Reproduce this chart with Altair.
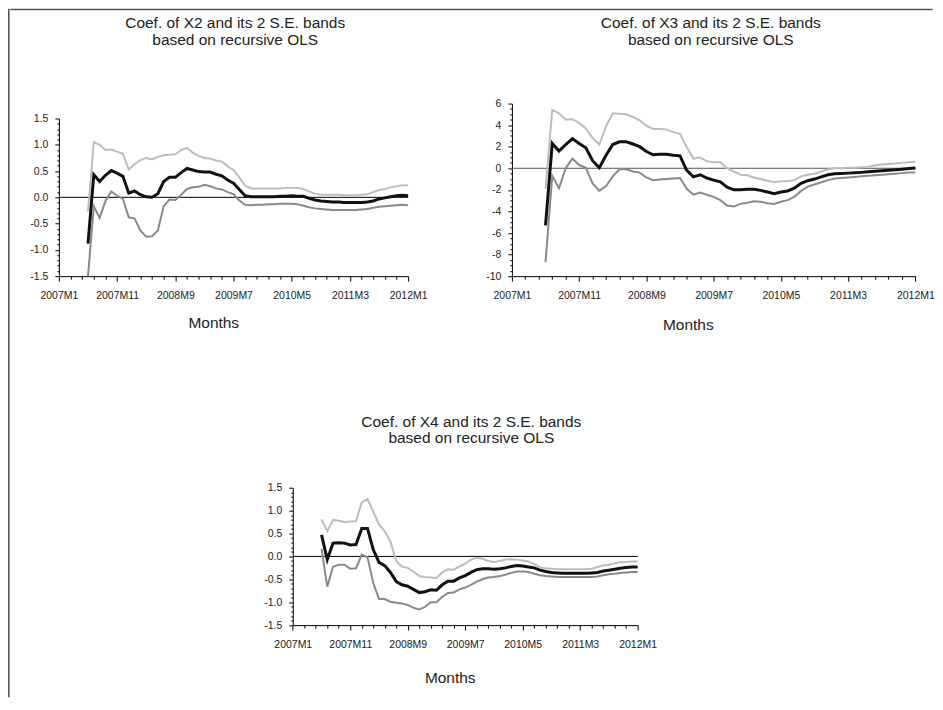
import altair as alt
import pandas as pd

# ---------------- data (months indexed from 2007M1 = 0; estimates start 2007M6) ----------------
MONTH_INDEX = list(range(5, 61))

X2_COEF = [-0.88, 0.43, 0.30, 0.42, 0.51, 0.46, 0.40, 0.08, 0.12, 0.05,
           0.01, 0.00, 0.07, 0.30, 0.38, 0.38, 0.47, 0.55, 0.52, 0.49,
           0.48, 0.48, 0.44, 0.41, 0.33, 0.27, 0.15, 0.03, 0.01, 0.01,
           0.01, 0.01, 0.01, 0.02, 0.02, 0.03, 0.02, 0.02, -0.02, -0.05,
           -0.07, -0.08, -0.09, -0.09, -0.10, -0.10, -0.10, -0.10, -0.09, -0.07,
           -0.03, -0.01, 0.01, 0.03, 0.04, 0.03]
X2_UPPER = [-0.27, 1.05, 1.00, 0.90, 0.91, 0.87, 0.83, 0.53, 0.63, 0.71,
            0.75, 0.72, 0.77, 0.80, 0.81, 0.82, 0.90, 0.94, 0.85, 0.79,
            0.75, 0.74, 0.70, 0.68, 0.59, 0.52, 0.38, 0.22, 0.17, 0.17,
            0.17, 0.17, 0.17, 0.17, 0.18, 0.18, 0.18, 0.16, 0.11, 0.07,
            0.05, 0.05, 0.05, 0.05, 0.04, 0.04, 0.04, 0.05, 0.06, 0.10,
            0.14, 0.16, 0.19, 0.21, 0.23, 0.23]
X2_LOWER = [-1.50, -0.17, -0.39, -0.07, 0.11, 0.03, -0.03, -0.38, -0.40, -0.63,
            -0.75, -0.74, -0.63, -0.17, -0.04, -0.05, 0.05, 0.16, 0.19, 0.20,
            0.24, 0.21, 0.17, 0.15, 0.10, 0.06, -0.06, -0.14, -0.15, -0.14,
            -0.14, -0.13, -0.13, -0.12, -0.12, -0.12, -0.13, -0.16, -0.19, -0.21,
            -0.22, -0.23, -0.24, -0.24, -0.24, -0.24, -0.24, -0.23, -0.22, -0.20,
            -0.18, -0.17, -0.16, -0.15, -0.14, -0.15]

X3_COEF = [-5.3, 2.3, 1.6, 2.2, 2.75, 2.3, 1.9, 0.7, 0.05, 1.2,
           2.2, 2.45, 2.45, 2.25, 2.0, 1.55, 1.25, 1.3, 1.3, 1.2,
           1.15, -0.2, -0.8, -0.6, -0.9, -1.1, -1.25, -1.75, -2.0, -2.0,
           -1.95, -1.95, -2.05, -2.2, -2.35, -2.2, -2.1, -1.85, -1.4, -1.15,
           -1.0, -0.8, -0.6, -0.5, -0.48, -0.45, -0.42, -0.38, -0.33, -0.28,
           -0.23, -0.18, -0.13, -0.08, -0.03, 0.03]
X3_UPPER = [-1.9, 5.4, 5.1, 4.5, 4.55, 4.2, 3.7, 2.8, 2.2, 3.9,
            5.1, 5.05, 5.0, 4.75, 4.45, 3.95, 3.65, 3.65, 3.6, 3.35,
            3.2, 1.95, 0.9, 1.0, 0.65, 0.55, 0.55, 0.0, -0.3, -0.6,
            -0.65, -0.85, -1.0, -1.15, -1.3, -1.2, -1.2, -1.1, -0.75, -0.6,
            -0.5, -0.3, -0.1, 0.0, 0.0, 0.05, 0.05, 0.1, 0.15, 0.25,
            0.35, 0.4, 0.45, 0.5, 0.55, 0.6]
X3_LOWER = [-8.7, -0.7, -1.85, 0.0, 0.9, 0.3, 0.05, -1.4, -2.1, -1.65,
            -0.75, -0.1, -0.1, -0.3, -0.4, -0.85, -1.1, -1.05, -1.0, -0.95,
            -0.9, -1.9, -2.45, -2.25, -2.45, -2.65, -2.95, -3.45, -3.55, -3.3,
            -3.2, -3.05, -3.1, -3.25, -3.3, -3.1, -2.95, -2.65, -2.1, -1.7,
            -1.5, -1.3, -1.1, -0.95, -0.9, -0.85, -0.8, -0.75, -0.7, -0.65,
            -0.6, -0.55, -0.5, -0.45, -0.4, -0.4]

X4_COEF = [0.47, -0.07, 0.29, 0.30, 0.29, 0.25, 0.26, 0.61, 0.61, 0.15,
           -0.13, -0.20, -0.35, -0.55, -0.62, -0.65, -0.72, -0.79, -0.77, -0.73,
           -0.74, -0.62, -0.54, -0.54, -0.47, -0.42, -0.35, -0.29, -0.27, -0.27,
           -0.28, -0.27, -0.25, -0.22, -0.20, -0.21, -0.23, -0.25, -0.30, -0.33,
           -0.35, -0.36, -0.37, -0.37, -0.37, -0.37, -0.37, -0.36, -0.35, -0.32,
           -0.30, -0.28, -0.26, -0.24, -0.23, -0.23]
X4_UPPER = [0.81, 0.55, 0.80, 0.78, 0.75, 0.76, 0.77, 1.18, 1.25, 0.98,
            0.70, 0.55, 0.32, -0.10, -0.22, -0.25, -0.33, -0.43, -0.45, -0.46,
            -0.47, -0.35, -0.28, -0.29, -0.22, -0.16, -0.07, -0.03, -0.05, -0.10,
            -0.12, -0.10, -0.07, -0.06, -0.07, -0.09, -0.11, -0.17, -0.24, -0.26,
            -0.27, -0.28, -0.28, -0.28, -0.28, -0.28, -0.28, -0.27, -0.23, -0.20,
            -0.18, -0.15, -0.13, -0.12, -0.11, -0.11]
X4_LOWER = [0.17, -0.66, -0.23, -0.18, -0.18, -0.27, -0.26, 0.04, -0.02, -0.58,
            -0.93, -0.93, -0.99, -1.01, -1.03, -1.06, -1.12, -1.16, -1.10, -1.00,
            -1.00, -0.88, -0.80, -0.79, -0.72, -0.68, -0.62, -0.55, -0.50, -0.46,
            -0.45, -0.43, -0.40, -0.36, -0.33, -0.33, -0.34, -0.38, -0.41, -0.43,
            -0.44, -0.45, -0.45, -0.45, -0.45, -0.45, -0.45, -0.45, -0.44, -0.41,
            -0.39, -0.38, -0.36, -0.35, -0.34, -0.34]

TITLE_X2 = ["Coef. of X2 and its 2 S.E. bands", "based on recursive OLS"]
TITLE_X3 = ["Coef. of X3 and its 2 S.E. bands", "based on recursive OLS"]
TITLE_X4 = ["Coef. of X4 and its 2 S.E. bands", "based on recursive OLS"]
X_TITLE = "Months"
X_TICKS = list(range(0, 61, 2))
Y_TICKS_SMALL = [round(-1.5 + 0.1 * i, 1) for i in range(31)]
Y_TICKS_BIG = [round(-10 + 0.5 * i, 1) for i in range(33)]

# ---------------- style / layout ----------------
FONT = "Liberation Sans, Arial, sans-serif"
TITLE_SIZE = 15.5
LABEL_SIZE = 10.5
TEXT_C = "#222222"
UPPER_C = "#bdbdbd"
LOWER_C = "#8a8a8a"
COEF_C = "#111111"
FRAME_C = "#555555"
FW = 1.6

EDGE = 8.0              # page position where the frame starts (left / top)
SPLIT_X = 460.0         # layout boundary between the two upper panels
SPLIT_Y = 380.0         # layout boundary between the rows
RIGHT_END = 934.0
BOTTOM = 698.0

X_LABEL = ("datum.value % 10 === 0 ? (2007 + floor(datum.value / 12)) + 'M' + "
           "(datum.value % 12 + 1) : ''")
Y_TEST_SMALL = "abs(datum.value * 2 - round(datum.value * 2)) < 0.001"
Y_LABEL_SMALL = (Y_TEST_SMALL + " ? (datum.value < 0 ? '-' : '') + "
                 "format(abs(datum.value), '.1f') : ''")
Y_TEST_BIG = "datum.value % 2 === 0"
Y_LABEL_BIG = (Y_TEST_BIG + " ? (datum.value < 0 ? '-' : '') + "
               "format(abs(datum.value), 'd') : ''")

ONE = pd.DataFrame({"zero": [0.0], "x0": [0], "x1": [60]})

# plot origins (page px)
O1 = (58.3, 104.0)
O2 = (511.7, 104.0)
O3 = (58.3, 488.3)


def box(origin, x1, x2, y1, y2, opacity=1.0):
    """A filled strip given in page pixels (frame line or invisible layout guide)."""
    ox, oy = origin
    return alt.Chart(ONE).mark_rect(color=FRAME_C, opacity=opacity).encode(
        x=alt.value(x1 - ox), x2=alt.value(x2 - ox),
        y=alt.value(y1 - oy), y2=alt.value(y2 - oy))


def panel(coef, upper, lower, origin, width, height, xrange, yrange, ydomain, yticks,
          ylabel, ytest, title, title_cx, title_base, months_cx, months_y, zero_c, guides):
    ox, oy = origin
    df = pd.DataFrame({"month": MONTH_INDEX, "coef": coef, "upper": upper, "lower": lower})
    xs = alt.Scale(domain=[0, 60], nice=False, zero=False, range=xrange)
    ys = alt.Scale(domain=ydomain, nice=False, zero=False, range=yrange)
    xaxis = alt.Axis(values=X_TICKS, labelExpr=X_LABEL, title=X_TITLE,
                     titleX=months_cx - ox, titleY=months_y, titleBaseline="alphabetic",
                     titleAlign="center",
                     labelFlush=False, labelOverlap=False, labelPadding=9,
                     tickSize={"condition": {"test": "datum.value % 10 === 0", "value": 5}, "value": 3})
    yaxis = alt.Axis(values=yticks, labelExpr=ylabel, title=None,
                     offset=-xrange[0], labelOverlap=False, labelPadding=7,
                     tickSize={"condition": {"test": ytest, "value": 4}, "value": 2})

    def X(f="month"):
        return alt.X(f + ":Q", scale=xs, axis=xaxis)

    def Y(f):
        return alt.Y(f + ":Q", scale=ys, axis=yaxis)

    base = alt.Chart(df)
    layers = [
        alt.Chart(ONE).mark_rule(color=zero_c, strokeWidth=1)
        .encode(x=X("x0"), x2="x1:Q", y=Y("zero")),
        base.mark_line(color=LOWER_C, strokeWidth=2).encode(x=X(), y=Y("lower")),
        base.mark_line(color=UPPER_C, strokeWidth=2).encode(x=X(), y=Y("upper")),
        base.mark_line(color=COEF_C, strokeWidth=3).encode(x=X(), y=Y("coef")),
        alt.Chart(ONE).mark_text(text=title, font=FONT, fontSize=TITLE_SIZE, lineHeight=17.0,
                                 baseline="top", align="center", color=TEXT_C)
        .encode(x=alt.value(title_cx - ox), y=alt.value(title_base - 12 - oy)),
    ]
    for g in guides:
        layers.append(box(origin, *g, opacity=0))
    return alt.layer(*layers).properties(width=width, height=height)


# invisible guides fix the panel positions inside the concat layout
p1 = panel(X2_COEF, X2_UPPER, X2_LOWER, O1, 350.0, 173.0, [0, 350.0], [173.0, 15.0],
           [-1.5, 1.5], Y_TICKS_SMALL, Y_LABEL_SMALL, Y_TEST_SMALL,
           TITLE_X2, 235.0, 28.5, 213.0, 51, "#000000",
           [(O1[0], O1[0] + 1, EDGE + FW + 2, EDGE + FW + 3),      # top of row
            (SPLIT_X - 1, SPLIT_X, O1[1] + 20, O1[1] + 21),        # right edge
            (O1[0], O1[0] + 1, SPLIT_Y - 1, SPLIT_Y)])             # bottom of row
p2 = panel(X3_COEF, X3_UPPER, X3_LOWER, O2, 404.3, 173.0, [0, 404.3], [173.0, 0],
           [-10, 6], Y_TICKS_BIG, Y_LABEL_BIG, Y_TEST_BIG,
           TITLE_X3, 711.0, 28.5, 688.0, 53.7, "#555555",
           [(SPLIT_X, SPLIT_X + 1, O2[1] + 20, O2[1] + 21)])       # left edge
p3 = panel(X4_COEF, X4_UPPER, X4_LOWER, O3, 580.0, 137.7, [234.4, 580.0], [137.7, 0],
           [-1.5, 1.5], Y_TICKS_SMALL, Y_LABEL_SMALL, Y_TEST_SMALL,
           TITLE_X4, 471.6, 427.0, 450.0, 58, "#000000",
           [(O3[0] + 300, O3[0] + 301, SPLIT_Y, SPLIT_Y + 1)])     # top of row

# frame: top line (own row, origin aligned with the panels' x origin)
top_line = (box((O1[0], EDGE), EDGE + FW, RIGHT_END, EDGE, EDGE + FW)
            .properties(width=RIGHT_END - O1[0], height=FW))
# frame: left line (own column)
left_line = (box((EDGE, EDGE), EDGE, EDGE + FW, EDGE, BOTTOM)
             .properties(width=FW, height=BOTTOM - EDGE))

main = alt.vconcat(top_line, alt.hconcat(p1, p2, spacing=0), p3, spacing=0)

chart = (
    alt.hconcat(left_line, main, spacing=0)
    .properties(padding=0, background="white")
    .configure_view(strokeWidth=0)
    .configure_axis(domainColor="#000000", domainWidth=1, tickColor="#000000", tickWidth=1,
                    grid=False, labelFont=FONT, labelFontSize=LABEL_SIZE, labelColor=TEXT_C,
                    titleFont=FONT, titleFontSize=TITLE_SIZE, titleFontWeight="normal",
                    titleColor=TEXT_C)
)

chart.save("out.html", embed_options={"renderer": "svg", "actions": False})
